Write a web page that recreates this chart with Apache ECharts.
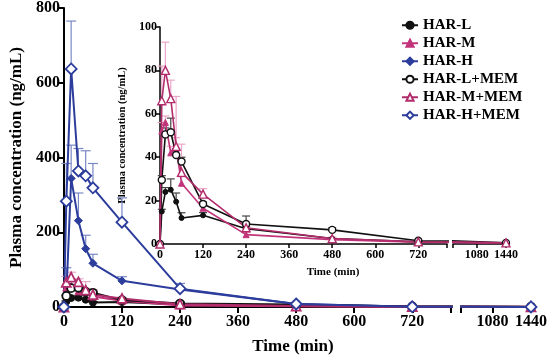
<!DOCTYPE html>
<html>
<head>
<meta charset="utf-8">
<script src="https://cdn.jsdelivr.net/npm/echarts@6/dist/echarts.min.js"></script>
<style>html,body{margin:0;padding:0;background:#fff}#c{width:550px;height:357px}</style>
</head>
<body>
<div id="c"></div>
<script>
// ---- data ----
const times = [0, 5, 15, 30, 45, 60, 120, 240, 480, 720, 1440];
const seriesNames = ['HAR-L', 'HAR-M', 'HAR-H', 'HAR-L+MEM', 'HAR-M+MEM', 'HAR-H+MEM'];
const harL      = [0, 15, 24, 25, 19.5, 12, 13.2, 7, 2.5, 1, 0.3];
const harL_sd   = [0, 1, 2, 5, 4, 2.4, 1.3, 1, 0.5, 0, 0];
const harM      = [0, 52, 56, 42, 44, 28, 16.5, 4.3, 2, 0.8, 0.3];
const harM_sd   = [0, 4, 3, 3, 5, 3, 1.5, 1, 0.5, 0, 0];
const harH      = [0, 30, 344, 231, 156, 117, 70, 47, 8, 0.5, 0.3];
const harH_sd   = [0, 75, 89, 74, 36, 24, 11, 3, 1, 0, 0];
const harLM     = [0, 29.5, 50.5, 51.5, 41, 38, 18.4, 9.2, 6.5, 1.5, 0.5];
const harLM_sd  = [0, 2, 3, 6.5, 3, 2, 1, 3.7, 1, 0, 0];
const harMM     = [0, 66, 80, 67, 45, 33, 23, 7.5, 2.5, 1, 0.5];
const harMM_sd  = [0, 16, 13, 8.5, 23, 13, 2.5, 1, 0.5, 0, 0];
const harHM     = [0, 283, 637, 364, 351, 319, 227, 49, 8, 0.5, 0.3];
const harHM_sd  = [0, 101, 128, 60, 67, 65, 65, 14, 3, 0, 0];
const mainYTicks = [0, 200, 400, 600, 800];
const insetYTicks = [0, 20, 40, 60, 80, 100];
const seg1Labels = [0, 120, 240, 360, 480, 600, 720];
const seg2Labels = [1080, 1440];

// ---- styles ----
const FONT = 'Liberation Serif';
const BLACK = '#111111', PINK = '#c2347a', PINK2 = '#b22d6c', BLUE = '#2c3d9c';
const groups = [
  {name: seriesNames[0], v: harL,  sd: harL_sd,  color: BLACK, symbol: 'circle',   hollow: false, ms: 7,  is: 5, ec: '#444', inset: true},
  {name: seriesNames[1], v: harM,  sd: harM_sd,  color: PINK,  symbol: 'triangle', hollow: false, ms: 7,  is: 6, ec: '#eaa6c8', inset: true},
  {name: seriesNames[2], v: harH,  sd: harH_sd,  color: BLUE,  symbol: 'diamond',  hollow: false, ms: 8,  is: 6, ec: '#7a88c6', inset: false},
  {name: seriesNames[3], v: harLM, sd: harLM_sd, color: BLACK, symbol: 'circle',   hollow: true,  ms: 8,  is: 7, ec: '#444', inset: true},
  {name: seriesNames[4], v: harMM, sd: harMM_sd, color: PINK2, symbol: 'triangle', hollow: true,  ms: 9,  is: 8, ec: '#eaa6c8', inset: true},
  {name: seriesNames[5], v: harHM, sd: harHM_sd, color: BLUE,  symbol: 'diamond',  hollow: true,  ms: 11, is: 8, ec: '#7a88c6', inset: false}
];

const S1MAX = 800, S2MIN = 786, XMAX = 1440;
const seg1Ticks = seg1Labels.concat([S1MAX]);
const seg2Ticks = [S2MIN].concat(seg2Labels);
const plain = v => String(v);

function xAxisCfg(gi, min, max, ticks, labels, fs, lw, tl, mg) {
  return {
    type: 'value', gridIndex: gi, min: min, max: max,
    axisLine: {show: true, onZero: false, lineStyle: {color: '#000', width: lw}},
    axisTick: {show: true, length: tl, customValues: ticks, lineStyle: {color: '#000', width: lw}},
    axisLabel: {customValues: labels, formatter: plain, color: '#000', fontFamily: FONT, fontWeight: 'bold', fontSize: fs, margin: mg},
    splitLine: {show: false}
  };
}
function yAxisCfg(gi, max, interval, fs, lw, tl, show, name, nfs, ngap, mg) {
  return {
    type: 'value', gridIndex: gi, min: 0, max: max, interval: interval, show: show,
    name: name, nameLocation: 'middle', nameGap: ngap,
    nameTextStyle: {fontFamily: FONT, fontWeight: 'bold', fontSize: nfs, color: '#000'},
    axisLine: {show: true, lineStyle: {color: '#000', width: lw}},
    axisTick: {show: true, length: tl, lineStyle: {color: '#000', width: lw}},
    axisLabel: {formatter: plain, color: '#000', fontFamily: FONT, fontWeight: 'bold', fontSize: fs, margin: mg},
    splitLine: {show: false}
  };
}

const grids = [
  {left: 55, top: 7, width: 396, height: 300},      // main seg 1
  {left: 461, top: 7, width: 70, height: 300},      // main seg 2
  {left: 160, top: 27, width: 287, height: 217},    // inset seg 1
  {left: 453, top: 27, width: 53, height: 217}      // inset seg 2
];
const xAxes = [
  xAxisCfg(0, 0, S1MAX, seg1Ticks, seg1Labels, 16, 2, 6, 7),
  xAxisCfg(1, S2MIN, XMAX, seg2Ticks, seg2Labels, 16, 2, 6, 7),
  xAxisCfg(2, 0, S1MAX, seg1Ticks, seg1Labels, 12, 1.5, 4, 5),
  xAxisCfg(3, S2MIN, XMAX, seg2Ticks, seg2Labels, 12, 1.5, 4, 5)
];
const yAxes = [
  yAxisCfg(0, 800, 200, 16, 2, 6, true, 'Plasma concentration (ng/mL)', 17, 31, 4),
  yAxisCfg(1, 800, 200, 16, 2, 6, false, '', 17, 30, 4),
  yAxisCfg(2, 100, 20, 12, 1.5, 4, true, 'Plasma concentration (ng/mL)', 10.5, 24, 3),
  yAxisCfg(3, 100, 20, 12, 1.5, 4, false, '', 10, 20, 3)
];

const series = [];
// error bars
groups.forEach(g => {
  const axes = g.inset ? [0, 2] : [0];
  axes.forEach(ai => {
    series.push({
      type: 'custom', xAxisIndex: ai, yAxisIndex: ai, z: 1, silent: true,
      data: times.map((t, i) => [t, g.v[i], g.sd[i]]).filter(d => d[0] <= 480 && d[2] > 0),
      renderItem: (params, api) => {
        const x = api.value(0), y = api.value(1), s = api.value(2);
        const p0 = api.coord([x, y]);
        const p1 = api.coord([x, y + s]);
        const cap = ai === 0 ? 5 : 4;
        const st = {stroke: g.ec, lineWidth: 1.2};
        return {type: 'group', children: [
          {type: 'line', shape: {x1: p0[0], y1: p0[1], x2: p1[0], y2: p1[1]}, style: st},
          {type: 'line', shape: {x1: p1[0] - cap, y1: p1[1], x2: p1[0] + cap, y2: p1[1]}, style: st}
        ]};
      }
    });
  });
});
// lines
groups.forEach(g => {
  const axes = g.inset ? [0, 1, 2, 3] : [0, 1];
  axes.forEach(ai => {
    const inset = ai >= 2;
    series.push({
      name: g.name, type: 'line', xAxisIndex: ai, yAxisIndex: ai, clip: true, z: 3,
      data: times.map((t, i) => [t, g.v[i]]),
      symbol: g.symbol, symbolSize: inset ? g.is : g.ms,
      lineStyle: {color: g.color, width: inset ? 1.6 : 2},
      itemStyle: g.hollow ? {color: '#fff', borderColor: g.color, borderWidth: inset ? 1.4 : 1.8}
                          : {color: g.color, borderColor: g.color, borderWidth: 1},
      emphasis: {disabled: true}, animation: false
    });
  });
});

const chart = echarts.init(document.getElementById('c'), null, {renderer: 'canvas'});
chart.setOption({
  animation: false,
  backgroundColor: '#fff',
  grid: grids,
  xAxis: xAxes,
  yAxis: yAxes,
  legend: {
    data: seriesNames, orient: 'vertical', left: 401, top: 17, padding: 0,
    itemWidth: 16, itemHeight: 9, itemGap: 1.5,
    textStyle: {fontFamily: FONT, fontWeight: 'bold', fontSize: 15, lineHeight: 16.5, color: '#000'}
  },
  graphic: [
    {type: 'text', style: {text: 'Time (min)', font: 'bold 17px "Liberation Serif"', fill: '#000', x: 293, y: 347, align: 'center', verticalAlign: 'middle'}},
    {type: 'text', style: {text: 'Time (min)', font: 'bold 11px "Liberation Serif"', fill: '#000', x: 333, y: 272, align: 'center', verticalAlign: 'middle'}}
  ],
  series: series
});
</script>
</body>
</html>
